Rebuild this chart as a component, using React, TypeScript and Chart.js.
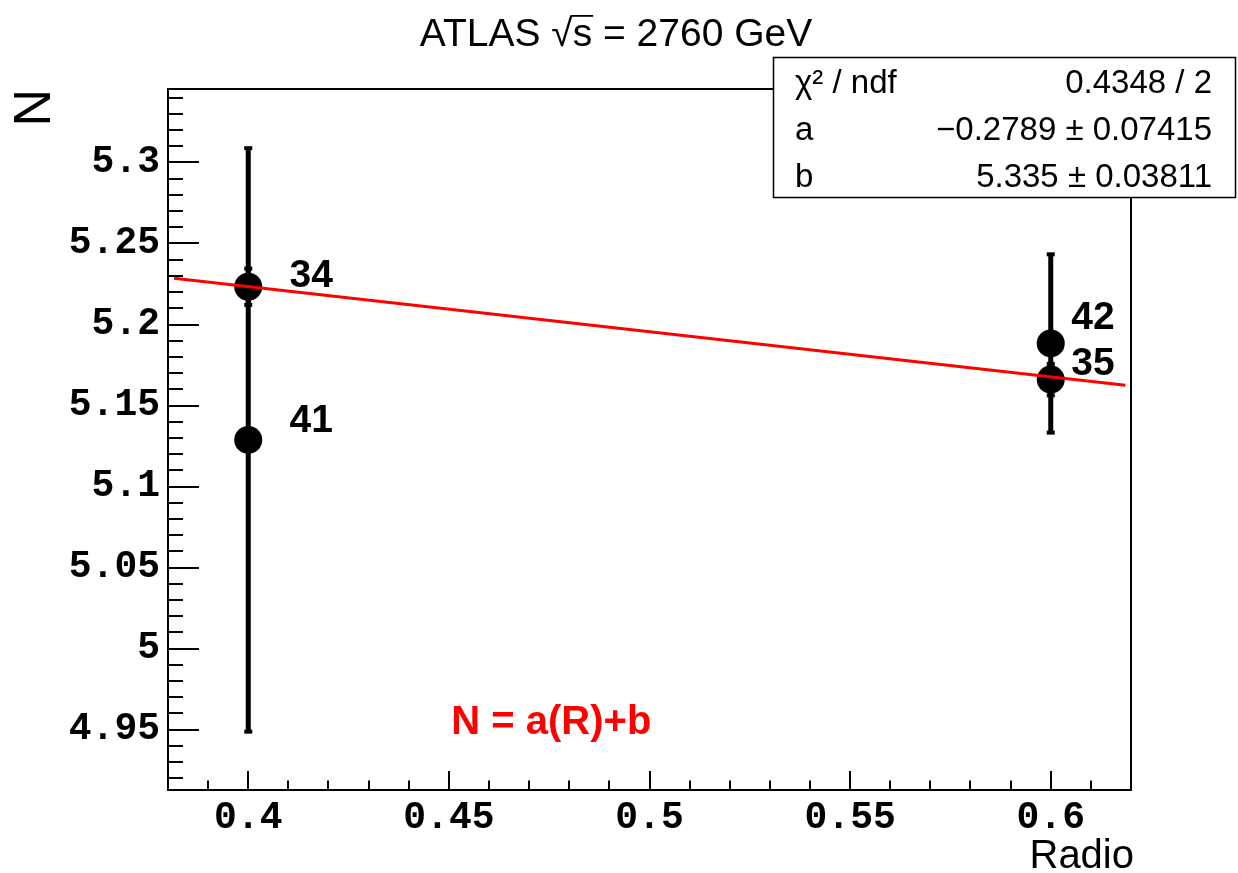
import { useEffect, useRef } from "react";
import { Chart, registerables } from "chart.js";

Chart.register(...registerables);

// Measured points: jet radius R vs. N, with symmetric errors
const radius = [0.4, 0.4, 0.6, 0.6];
const nValues = [5.2233, 5.1288, 5.1883, 5.166];
const nErrors = [0.0112, 0.18, 0.055, 0.0097];

// Point annotations (data coordinates of each label's baseline start)
const pointLabels = ["34", "41", "42", "35"];
const labelX = [0.4103, 0.4103, 0.6051, 0.6051];
const labelY = [5.2233, 5.1338, 5.1973, 5.169];

// Axes
const xRange = [0.38, 0.62];
const yRange = [4.9128, 5.3453];
const xTicks = [0.4, 0.45, 0.5, 0.55, 0.6];
const xTickLabels = ["0.4", "0.45", "0.5", "0.55", "0.6"];
const yTicks = [4.95, 5, 5.05, 5.1, 5.15, 5.2, 5.25, 5.3];
const yTickLabels = ["4.95", "5", "5.05", "5.1", "5.15", "5.2", "5.25", "5.3"];
const minorStep = 0.01;

// Linear fit N = a*R + b
const fitA = -0.2789;
const fitB = 5.335;
const fitRange = [0.3815, 0.6186];
const statsRows = [
  ["χ² / ndf", "0.4348 / 2"],
  ["a", "−0.2789 ± 0.07415"],
  ["b", "5.335 ± 0.03811"],
];
const formulaText = "N = a(R)+b";
const formulaPos = [0.4506, 4.9475];

const SANS = "'Liberation Sans', Arial, Helvetica, sans-serif";
const MONO = "'Liberation Mono', 'Courier New', monospace";

const rootDecor = {
  id: "rootDecor",
  beforeDatasetsDraw(chart: any) {
    const { ctx } = chart;
    const x = chart.scales.x;
    const y = chart.scales.y;
    ctx.save();
    ctx.fillStyle = "#000";
    radius.forEach((r, i) => {
      const px = x.getPixelForValue(r);
      const top = y.getPixelForValue(nValues[i] + nErrors[i]);
      const bot = y.getPixelForValue(nValues[i] - nErrors[i]);
      ctx.fillRect(px - 2.5, top, 5, bot - top);
      ctx.fillRect(px - 4, top - 2, 8, 4);
      ctx.fillRect(px - 4, bot - 2, 8, 4);
    });
    ctx.restore();
  },
  afterDatasetsDraw(chart: any) {
    const { ctx, chartArea } = chart;
    const x = chart.scales.x;
    const y = chart.scales.y;
    const { left, right, top, bottom } = chartArea;
    ctx.save();

    // frame
    ctx.strokeStyle = "#000";
    ctx.lineWidth = 2;
    ctx.strokeRect(left, top, right - left, bottom - top);

    // x ticks (inside the frame)
    ctx.lineWidth = 2;
    ctx.beginPath();
    const x0 = Math.ceil(xRange[0] / minorStep - 1e-6);
    const x1 = Math.floor(xRange[1] / minorStep + 1e-6);
    for (let k = x0; k <= x1; k++) {
      const v = k * minorStep;
      const px = Math.round(x.getPixelForValue(v));
      const isMajor = xTicks.some((t) => Math.abs(t - v) < 1e-6);
      ctx.moveTo(px, bottom);
      ctx.lineTo(px, bottom - (isMajor ? 19 : 9.5));
    }
    // y ticks
    const y0 = Math.ceil(yRange[0] / minorStep - 1e-6);
    const y1 = Math.floor(yRange[1] / minorStep + 1e-6);
    for (let k = y0; k <= y1; k++) {
      const v = k * minorStep;
      const py = Math.round(y.getPixelForValue(v));
      const isMajor = yTicks.some((t) => Math.abs(t - v) < 1e-6);
      ctx.moveTo(left, py);
      ctx.lineTo(left + (isMajor ? 31 : 15), py);
    }
    ctx.stroke();

    // point labels
    ctx.fillStyle = "#000";
    ctx.font = `bold 39px ${SANS}`;
    ctx.textAlign = "left";
    ctx.textBaseline = "alphabetic";
    pointLabels.forEach((t, i) => {
      ctx.fillText(t, x.getPixelForValue(labelX[i]), y.getPixelForValue(labelY[i]));
    });

    // fit formula
    ctx.fillStyle = "#ff0000";
    ctx.font = `bold 40px ${SANS}`;
    ctx.fillText(formulaText, x.getPixelForValue(formulaPos[0]), y.getPixelForValue(formulaPos[1]));

    // axis titles
    ctx.fillStyle = "#000";
    ctx.font = `40px ${SANS}`;
    ctx.textAlign = "right";
    ctx.fillText("Radio", right + 3, 868);

    ctx.save();
    ctx.font = `52px ${SANS}`;
    ctx.translate(50, top);
    ctx.rotate(-Math.PI / 2);
    ctx.textAlign = "right";
    ctx.fillText("N", 0, 0);
    ctx.restore();

    // title with square-root sign
    ctx.font = `39px ${SANS}`;
    ctx.textAlign = "left";
    const partA = "ATLAS ";
    const root = "√";
    const rad = "s";
    const partB = " = 2760 GeV";
    const wA = ctx.measureText(partA).width;
    const wR = ctx.measureText(root).width;
    const wS = ctx.measureText(rad).width;
    const wB = ctx.measureText(partB).width;
    const total = wA + wR + wS + wB;
    let tx = 616 - total / 2;
    const tb = 46;
    ctx.fillText(partA, tx, tb);
    tx += wA;
    ctx.fillText(root, tx, tb);
    const rootTop = tb - ctx.measureText(root).actualBoundingBoxAscent;
    tx += wR;
    ctx.fillText(rad, tx, tb);
    ctx.lineWidth = 1.8;
    ctx.beginPath();
    ctx.moveTo(tx - 1, rootTop + 0.9);
    ctx.lineTo(tx + wS + 1, rootTop + 0.9);
    ctx.stroke();
    tx += wS;
    ctx.fillText(partB, tx, tb);

    // statistics box
    const bx = 773.5;
    const by = 57.5;
    const bw = 462;
    const bh = 140;
    ctx.fillStyle = "#fff";
    ctx.fillRect(bx, by, bw, bh);
    ctx.lineWidth = 1.5;
    ctx.strokeRect(bx, by, bw, bh);
    ctx.fillStyle = "#000";
    ctx.font = `33px ${SANS}`;
    statsRows.forEach((row, i) => {
      const base = 93 + i * 47;
      ctx.textAlign = "left";
      ctx.fillText(row[0], 795, base);
      ctx.textAlign = "right";
      ctx.fillText(row[1], 1212, base);
    });

    ctx.restore();
  },
};

export default function App() {
  const canvasRef = useRef<HTMLCanvasElement | null>(null);

  useEffect(() => {
    const canvas = canvasRef.current;
    if (!canvas) return;
    const points = radius.map((r, i) => ({ x: r, y: nValues[i] }));
    const fitPoints = fitRange.map((r) => ({ x: r, y: fitA * r + fitB }));

    const chart = new Chart(canvas, {
      type: "scatter",
      data: {
        datasets: [
          {
            type: "line",
            data: fitPoints,
            borderColor: "#ff0000",
            borderWidth: 3,
            pointRadius: 0,
            fill: false,
          },
          {
            data: points,
            pointRadius: 14,
            pointHoverRadius: 14,
            backgroundColor: "#000",
            borderWidth: 0,
          },
        ],
      } as any,
      options: {
        animation: false,
        responsive: false,
        devicePixelRatio: 1,
        layout: { padding: { top: 89, right: 107, left: 0, bottom: 0 } },
        plugins: { legend: { display: false }, tooltip: { enabled: false } },
        events: [],
        scales: {
          x: {
            type: "linear",
            min: xRange[0],
            max: xRange[1],
            bounds: "data",
            grid: { display: false, drawTicks: false },
            border: { display: false },
            afterBuildTicks: (s: any) => {
              s.ticks = xTicks.map((v) => ({ value: v }));
            },
            afterFit: (s: any) => {
              s.height = 83;
            },
            ticks: {
              autoSkip: false,
              maxRotation: 0,
              padding: 6,
              color: "#000",
              font: { family: MONO, weight: "bold", size: 38 },
              callback: (_v: any, i: number) => xTickLabels[i],
            },
          },
          y: {
            type: "linear",
            min: yRange[0],
            max: yRange[1],
            bounds: "data",
            grid: { display: false, drawTicks: false },
            border: { display: false },
            afterBuildTicks: (s: any) => {
              s.ticks = yTicks.map((v) => ({ value: v }));
            },
            afterFit: (s: any) => {
              s.width = 168;
            },
            ticks: {
              autoSkip: false,
              padding: 8,
              color: "#000",
              font: { family: MONO, weight: "bold", size: 38 },
              callback: (_v: any, i: number) => yTickLabels[i],
            },
          },
        },
      } as any,
      plugins: [rootDecor],
    });
    return () => chart.destroy();
  }, []);

  return (
    <div style={{ position: "absolute", left: 0, top: 0, width: 1238, height: 873, background: "#fff" }}>
      <canvas ref={canvasRef} width={1238} height={873} />
    </div>
  );
}
